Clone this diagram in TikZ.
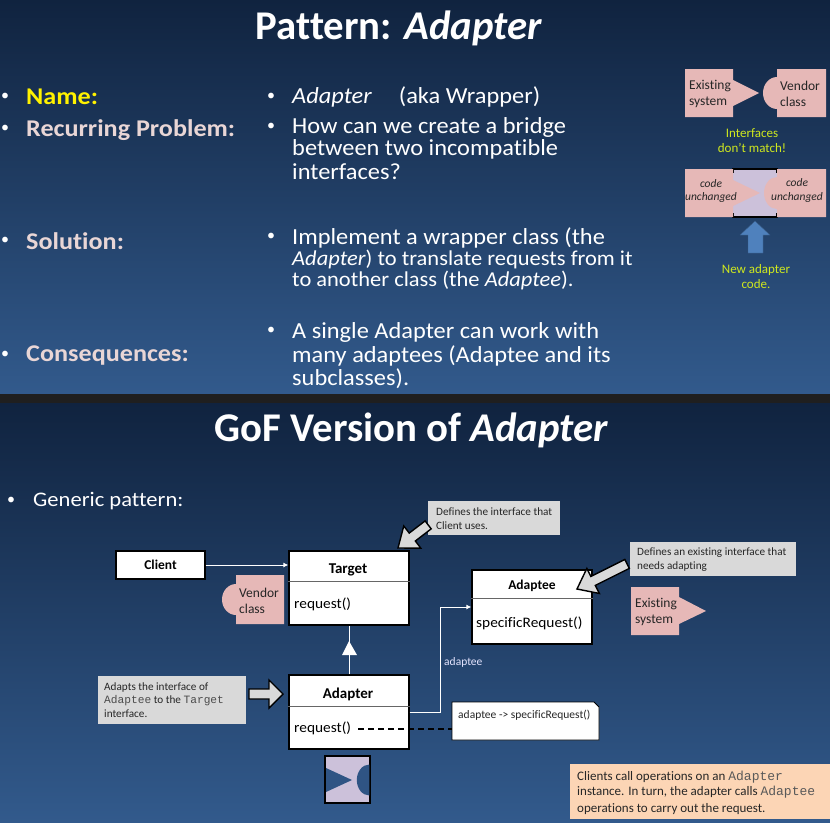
\documentclass[tikz,border=0pt]{standalone}
\usepackage{fontspec}
\setmainfont[Ligatures=NoCommon]{Carlito}
\setmonofont{Liberation Mono}
\usetikzlibrary{calc,arrows.meta}
\definecolor{bgtop}{HTML}{10233F}
\definecolor{bgbot}{HTML}{325A8C}
\definecolor{pinkbox}{HTML}{E6B8B7}
\definecolor{lilac}{HTML}{CCC1DA}
\definecolor{greybox}{HTML}{D9D9D9}
\definecolor{peach}{HTML}{FCD5B5}
\definecolor{limey}{HTML}{CFE81E}
\definecolor{softpink}{HTML}{E9D6D6}
\definecolor{bluearrow}{HTML}{4F81BD}
\newfontfamily\bodyfont[FakeStretch=1.06,Ligatures=NoCommon]{Carlito}
\newfontfamily\headfont[FakeStretch=1.09,Ligatures=NoCommon]{Carlito}
\newcommand{\fs}[1]{\fontsize{#1}{#1}\selectfont}
\newcommand{\blockarrow}[4]{\draw[blockarr,shift={(#1)},rotate=#2] (0,0) -- (-#4,14) -- (-#4,5) -- (-#3,5) -- (-#3,-5) -- (-#4,-5) -- (-#4,-14) -- cycle;}
\tikzset{
  x=1pt,y=-1pt,
  title/.style={text=white,font=\bfseries\fs{40.8},anchor=center,inner sep=0},
  bodyline/.style={text=white,font=\bodyfont\fs{23},inner sep=0,anchor=west},
  smallline/.style={text=white,font=\bodyfont\fs{21.2},inner sep=0,anchor=west},
  bul/.style={text=white,font=\fs{16},inner sep=0},
  headtxt/.style={font=\bfseries\headfont\fs{24},inner sep=0,anchor=west},
  pinktxt/.style={text=black!85,font=\fs{13.5},align=left,inner sep=0,anchor=west},
  itxt/.style={text=black!85,font=\itshape\fs{11.5},align=center,inner sep=0},
  limetxt/.style={text=limey,font=\fs{13},align=center,inner sep=0},
  umlbox/.style={draw=black,line width=1.3pt,fill=white,inner sep=0,minimum width=#1},
  umlhead/.style={font=\bfseries\fs{13.5},text=black,inner sep=0},
  umlop/.style={font=\bodyfont\fs{14.5},text=black,inner sep=0,anchor=west},
  callout/.style={fill=greybox,text=black!85,font=\fs{11.2},align=left,inner sep=0},
  wire/.style={draw=white,line width=1pt},
  blockarr/.style={draw=black,line width=1.4pt,fill=greybox,line join=miter},
}
\begin{document}
\begin{tikzpicture}
\useasboundingbox (0,0) rectangle (830,822);
% backgrounds
\fill[black!88] (0,0) rectangle (830,822);
\shade[top color=bgtop,bottom color=bgbot] (0,0) rectangle (830,393);
\shade[top color=bgtop,bottom color=bgbot] (0,403) rectangle (830,822);
% slide 1
\node[title] (t1) at (399,28) {Pattern: \textit{Adapter}};
\node[bul] (b1) at (5,97) {•};
\node[bul] (b2) at (5,129) {•};
\node[bul] (b3) at (5,241) {•};
\node[bul] (b4) at (5,355) {•};
\node[headtxt,text=yellow] (h1) at (26,97) {Name:};
\node[headtxt,text=softpink] (h2) at (26,130) {Recurring Problem:};
\node[headtxt,text=softpink] (h3) at (26,241.5) {Solution:};
\node[headtxt,text=softpink] (h4) at (26,355.5) {Consequences:};
\node[bul] (c1) at (271,97) {•};
\node[bul] (c2) at (271,127) {•};
\node[bul] (c3) at (271,237) {•};
\node[bul] (c4) at (271,331) {•};
\node[bodyline] (d1) at (292,97) {\textit{Adapter}\hspace{27pt}(aka Wrapper)};
\node[bodyline] (d2a) at (292,127.5) {How can we create a bridge};
\node[bodyline] (d2b) at (292,149.5) {between two incompatible};
\node[bodyline] (d2c) at (292,171.5) {interfaces?};
\node[bodyline] (d3a) at (292,237.5) {Implement a wrapper class (the};
\node[smallline] (d3b) at (292,259) {\textit{Adapter}) to translate requests from it};
\node[smallline] (d3c) at (292,280) {to another class (the \textit{Adaptee}).};
\node[bodyline] (d4a) at (292,332.5) {A single Adapter can work with};
\node[bodyline] (d4b) at (292,355.5) {many adaptees (Adaptee and its};
\node[bodyline] (d4c) at (292,378.5) {subclasses).};
% top right icons
\fill[pinkbox] (685,69) rectangle (733,117) (733,80) -- (759,93) -- (733,106) -- cycle;
\fill[pinkbox] (777,69) rectangle (826,117) (777,77) arc[start angle=270,end angle=90,x radius=14,y radius=16];
\node[pinktxt] (p1) at (689,94) {Existing\\[2.5pt]system};
\node[pinktxt] (p2) at (780,94) {Vendor\\[2.5pt]class};
\node[limetxt] (l1) at (752,141) {Interfaces\\[2pt]don’t match!};
\fill[lilac] (733,169) rectangle (777,217);
\draw[black,line width=1.2pt] (733,173) -- (733,169) -- (777,169) -- (777,173);
\draw[black,line width=1.2pt] (733,213) -- (733,217) -- (777,217) -- (777,213);
\fill[pinkbox] (685,169) rectangle (733,217) (733,180) -- (760,193) -- (733,206) -- cycle;
\fill[pinkbox] (777,169) rectangle (826,217) (777,177) arc[start angle=270,end angle=90,x radius=13,y radius=16];
\node[itxt] (p3) at (711,191) {code\\[2pt]unchanged};
\node[itxt] (p4) at (797,190.5) {code\\[2pt]unchanged};
\fill[bluearrow,draw=bluearrow!70!black] (755,221) -- (770,235) -- (763,235) -- (763,253) -- (748,253) -- (748,235) -- (740,235) -- cycle;
\node[limetxt] (l2) at (756,277) {New adapter\\[2pt]code.};
% slide 2
\node[title] (t2) at (411.5,430) {GoF Version of \textit{Adapter}};
\node[bul] (b5) at (11,501) {•};
\node[text=white,font=\headfont\fs{20.7},inner sep=0,anchor=west] (gen) at (33,501) {Generic pattern:};
% classes
\node[umlbox=89pt,minimum height=28pt,umlhead] (client) at (160.5,565) {Client};
\node[umlbox=120pt,minimum height=74pt] (target) at (349,588) {};
\draw[black!60,line width=.8pt] (target.west |- 0,581) -- (target.east |- 0,581);
\node[umlhead,font=\bfseries\fs{15}] (tname) at (348,570) {Target};
\node[umlop] (top) at (294,604.5) {request()};
\node[umlbox=120pt,minimum height=74pt] (adapter) at (349,712) {};
\draw[black!60,line width=.8pt] (adapter.west |- 0,706) -- (adapter.east |- 0,706);
\node[umlhead,font=\bfseries\fs{15}] (aname) at (348,694) {Adapter};
\node[umlop] (aop) at (294,728.5) {request()};
\node[umlbox=120pt,minimum height=74pt] (adaptee) at (532,607) {};
\draw[black!60,line width=.8pt] (adaptee.west |- 0,598) -- (adaptee.east |- 0,598);
\node[umlhead] (ename) at (532,585.5) {Adaptee};
\node[umlop] (eop) at (476,623.5) {specificRequest()};
% connectors
\draw[wire,-{Latex[length=5pt,width=5pt]}] (client.east) -- (client.east -| target.west);
\draw[wire] (adapter.north) -- (target.south);
\fill[white] (349,641) -- (357,655) -- (342,655) -- cycle;
\coordinate (wstart) at (adapter.east |- 0,712);
\coordinate (wend) at (adaptee.west |- 0,607);
\draw[wire,-{Latex[length=5pt,width=5pt]}] (wstart) -- (440,712) -- (440,607) -- (wend);
\node[text=white!90!blue,font=\fs{11.5},inner sep=0,anchor=west] (lbl) at (444,662.5) {adaptee};
% note
\node[minimum width=147pt,minimum height=38pt,inner sep=0] (note) at (525.5,721) {};
\draw[black,line width=.9pt,fill=white] (452,702) -- (594,702) -- (599,707) -- (599,740) -- (452,740) -- cycle;
\node[font=\fs{11.5},text=black!85,inner sep=0,anchor=west] (ntxt) at (458,715) {adaptee -> specificRequest()};
\coordinate (dstart) at (358,729);
\draw[black,line width=1.2pt,dash pattern=on 6pt off 4pt] (dstart) -- (dstart -| note.west);
% vendor shape
\fill[pinkbox] (236,575) rectangle (284,624) (236,584) arc[start angle=270,end angle=90,x radius=14,y radius=15.5];
\node[pinktxt] (v1) at (239,600.5) {Vendor\\[2.5pt]class};
% existing shape
\fill[pinkbox] (631,587) rectangle (679,635) (679,597) -- (706,611) -- (679,624) -- cycle;
\node[pinktxt] (v2) at (635,611.5) {Existing\\[2.5pt]system};
% callouts
\node[callout,minimum width=132pt,minimum height=34pt] (c5) at (494,518) {};
\node[callout,fill=none,anchor=west] (c5t) at (436,518.5) {Defines the interface that\\[2.5pt]Client uses.};
\node[callout,minimum width=166pt,minimum height=34pt] (c6) at (713,559) {};
\node[callout,fill=none,anchor=west] (c6t) at (637,559.5) {Defines an existing interface that\\[2.5pt]needs adapting};
\node[callout,minimum width=148pt,minimum height=48pt] (c7) at (172,700) {};
\node[callout,fill=none,anchor=west] (c7t) at (104,700) {Adapts the interface of\\[2.5pt]{\ttfamily\color{black!70}Adaptee} to the {\ttfamily\color{black!70}Target}\\[2.5pt]interface.};
\node[fill=peach,inner sep=0,minimum width=260pt,minimum height=55pt] (c8) at (700,791.5) {};
\node[text=black!85,font=\fs{13},align=left,inner sep=0,anchor=west] (c8t) at (577,793) {Clients call operations on an {\ttfamily\fontsize{13}{13}\selectfont\color{black!65}Adapter}\\[1.5pt]instance. In turn, the adapter calls {\ttfamily\fontsize{13}{13}\selectfont\color{black!65}Adaptee}\\[4pt]operations to carry out the request.};
\blockarrow{398,548}{217.5}{38}{18}
\blockarrow{577,589}{206.6}{56}{18}
\blockarrow{283,694}{0}{34}{14}
% adapter symbol
\draw[black,line width=1.3pt,fill=lilac] (325,756) rectangle (370,803);
\fill[bgbot!90!bgtop] (326,768) -- (352,780) -- (326,792) -- cycle;
\fill[bgbot!90!bgtop] (369.3,764.5) arc[start angle=270,end angle=90,x radius=12.5,y radius=15.5];
\end{tikzpicture}
\end{document}
